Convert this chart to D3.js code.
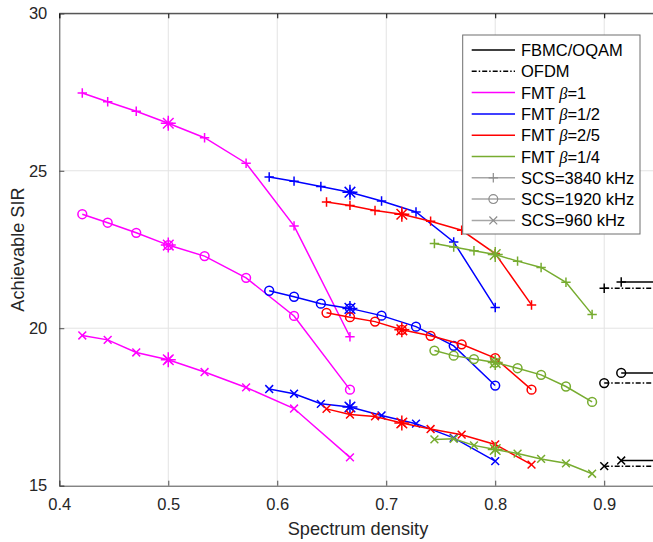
<!DOCTYPE html>
<html>
<head>
<meta charset="utf-8">
<script src="https://cdn.jsdelivr.net/npm/d3@7"></script>
<style>
  body { margin: 0; background: #fff; }
  svg { display: block; font-family: "Liberation Sans", Arial, sans-serif; }
</style>
</head>
<body>
<svg id="chart"></svg>
<script>
// Spectrum density values for each FMT roll-off
const xBeta1 = [0.4211, 0.4444, 0.4706, 0.5, 0.5333, 0.5714, 0.6154, 0.6667];
const xBetaHalf = [0.5926, 0.6154, 0.64, 0.6667, 0.6957, 0.7273, 0.7619, 0.8];
const xBeta25 = [0.6452, 0.6667, 0.6897, 0.7143, 0.7407, 0.7692, 0.8, 0.8333];
const xBeta14 = [0.7442, 0.7619, 0.7805, 0.8, 0.8205, 0.8421, 0.8649, 0.8889];

// Achievable SIR, one array per roll-off and subcarrier spacing
const sirBeta1_3840 = [27.47, 27.19, 26.89, 26.51, 26.05, 25.24, 23.25, 19.73];
const sirBeta1_1920 = [23.62, 23.35, 23.03, 22.64, 22.29, 21.60, 20.39, 18.05];
const sirBeta1_960 = [19.77, 19.63, 19.23, 19.00, 18.61, 18.12, 17.45, 15.90];

const sirBetaHalf_3840 = [24.80, 24.67, 24.50, 24.32, 24.04, 23.69, 22.74, 20.66];
const sirBetaHalf_1920 = [21.19, 21.00, 20.78, 20.63, 20.40, 20.05, 19.44, 18.18];
const sirBetaHalf_960 = [18.07, 17.92, 17.60, 17.50, 17.23, 16.97, 16.52, 15.78];

const sirBeta25_3840 = [24.01, 23.90, 23.74, 23.62, 23.40, 23.11, 22.37, 20.74];
const sirBeta25_1920 = [20.49, 20.35, 20.21, 19.95, 19.76, 19.49, 19.05, 18.05];
const sirBeta25_960 = [17.44, 17.26, 17.20, 16.99, 16.80, 16.62, 16.31, 15.67];

const sirBeta14_3840 = [22.69, 22.58, 22.46, 22.34, 22.13, 21.93, 21.46, 20.44];
const sirBeta14_1920 = [19.29, 19.13, 19.02, 18.91, 18.73, 18.52, 18.15, 17.66];
const sirBeta14_960 = [16.47, 16.49, 16.28, 16.15, 16.02, 15.85, 15.71, 15.38];

// FBMC/OQAM and OFDM reference levels
const xFbmc = [0.9156, 1.0];
const xOfdm = [0.9, 1.0];
const sirFbmc = [21.47, 18.58, 15.80];
const sirOfdm = [21.27, 18.26, 15.62];

const xTicks = [0.4, 0.5, 0.6, 0.7, 0.8, 0.9];
const yTicks = [15, 20, 25, 30];
const legendLabels = ["FBMC/OQAM", "OFDM", "FMT β=1", "FMT β=1/2", "FMT β=2/5", "FMT β=1/4",
    "SCS=3840 kHz", "SCS=1920 kHz", "SCS=960 kHz"];

const W = 653, H = 542;
const margin = { top: 13.3, left: 59.3 };
const plotW = 599.4, plotH = 472.4;

const svg = d3.select("#chart").attr("width", W).attr("height", H);

const xScale = d3.scaleLinear().domain([0.4, 0.95]).range([0, plotW]);
const yScale = d3.scaleLinear().domain([15, 30]).range([plotH, 0]);

const g = svg.append("g")
    .attr("transform", "translate(" + margin.left + "," + margin.top + ")");

svg.append("defs").append("clipPath").attr("id", "clip")
    .append("rect").attr("width", plotW).attr("height", plotH);

// grid
g.append("g").selectAll("line")
    .data(xTicks.slice(1))
    .enter().append("line")
    .attr("x1", d => xScale(d)).attr("x2", d => xScale(d))
    .attr("y1", 0).attr("y2", plotH)
    .attr("stroke", "#e3e3e3").attr("stroke-width", 1);
g.append("g").selectAll("line")
    .data(yTicks.slice(1, -1))
    .enter().append("line")
    .attr("x1", 0).attr("x2", plotW)
    .attr("y1", d => yScale(d)).attr("y2", d => yScale(d))
    .attr("stroke", "#e3e3e3").attr("stroke-width", 1);

// axes (ticks pointing in)
const xAxis = g.append("g")
    .attr("transform", "translate(0," + plotH + ")")
    .call(d3.axisBottom(xScale).tickValues(xTicks).tickSize(-5).tickPadding(13)
        .tickFormat(d3.format(".1f")));
const yAxis = g.append("g")
    .call(d3.axisLeft(yScale).tickValues(yTicks).tickSize(-5).tickPadding(12));
g.append("g")
    .call(d3.axisTop(xScale).tickValues(xTicks).tickSize(-5).tickFormat(""));
[xAxis, yAxis].forEach(a => {
    a.select(".domain").attr("stroke", "#4d4d4d");
    a.selectAll(".tick line").attr("stroke", "#4d4d4d");
    a.selectAll("text").attr("fill", "#262626").style("font-size", "16.5px")
        .style("font-family", "'Liberation Sans', Arial, sans-serif");
});
g.selectAll(".domain").attr("stroke", "#4d4d4d");
g.append("line").attr("x1", 0).attr("x2", plotW).attr("y1", 0).attr("y2", 0)
    .attr("stroke", "#4d4d4d");

// marker shapes
function markerPath(type, s) {
    if (type === "plus") return `M${-s},0H${s}M0,${-s}V${s}`;
    if (type === "times") return `M${-s},${-s}L${s},${s}M${-s},${s}L${s},${-s}`;
    if (type === "circle") return `M${s},0A${s},${s} 0 1,1 ${-s},0A${s},${s} 0 1,1 ${s},0`;
    const d = s * 0.7071;
    return `M${-s},0H${s}M0,${-s}V${s}M${-d},${-d}L${d},${d}M${-d},${d}L${d},${-d}`;
}
const markerSize = { plus: 4.7, circle: 4.4, times: 3.9 };

const line = d3.line().x(d => xScale(d[0])).y(d => yScale(d[1]));
const plot = g.append("g").attr("clip-path", "url(#clip)");

function drawSeries(xs, ys, color, marker, dash, starIdx) {
    const pts = xs.map((x, i) => [x, ys[i]]);
    plot.append("path")
        .datum(pts)
        .attr("d", line)
        .attr("fill", "none")
        .attr("stroke", color)
        .attr("stroke-width", 1.5)
        .attr("stroke-dasharray", dash || null);
    plot.append("g").selectAll("path")
        .data(pts.slice(0, xs.length === 2 ? 1 : pts.length))
        .enter().append("path")
        .attr("transform", d => "translate(" + xScale(d[0]) + "," + yScale(d[1]) + ")")
        .attr("d", markerPath(marker, markerSize[marker]))
        .attr("fill", "none")
        .attr("stroke", color)
        .attr("stroke-width", 1.5);
    if (starIdx != null) {
        plot.append("path")
            .attr("transform", "translate(" + xScale(xs[starIdx]) + "," + yScale(ys[starIdx]) + ")")
            .attr("d", markerPath("star", 7.5))
            .attr("fill", "none")
            .attr("stroke", color)
            .attr("stroke-width", 1.5);
    }
}

const fmt = [
    { x: xBeta1, color: "#ff00ff", ys: [sirBeta1_3840, sirBeta1_1920, sirBeta1_960] },
    { x: xBetaHalf, color: "#0000ff", ys: [sirBetaHalf_3840, sirBetaHalf_1920, sirBetaHalf_960] },
    { x: xBeta25, color: "#ff0000", ys: [sirBeta25_3840, sirBeta25_1920, sirBeta25_960] },
    { x: xBeta14, color: "#77ac30", ys: [sirBeta14_3840, sirBeta14_1920, sirBeta14_960] }
];
const markers = ["plus", "circle", "times"];

fmt.forEach(s => {
    s.ys.forEach((ys, k) => drawSeries(s.x, ys, s.color, markers[k], null, 3));
});

markers.forEach((m, k) => {
    drawSeries(xOfdm, [sirOfdm[k], sirOfdm[k]], "#000", m, "5,2,1.5,2", null);
    drawSeries(xFbmc, [sirFbmc[k], sirFbmc[k]], "#000", m, null, null);
});

// axis labels
svg.append("text")
    .attr("x", margin.left + plotW / 2 - 1)
    .attr("y", 535)
    .attr("text-anchor", "middle")
    .attr("fill", "#262626")
    .style("font-size", "18.2px")
    .text("Spectrum density");
svg.append("text")
    .attr("transform", "translate(24," + (margin.top + plotH / 2) + ") rotate(-90)")
    .attr("text-anchor", "middle")
    .attr("fill", "#262626")
    .style("font-size", "18.2px")
    .text("Achievable SIR");

// legend
const leg = svg.append("g");
leg.append("rect")
    .attr("x", 462.7).attr("y", 35).attr("width", 177.3).attr("height", 199)
    .attr("fill", "#fff").attr("stroke", "#6e6e6e").attr("stroke-width", 1);

const legColors = ["#000", "#000", "#ff00ff", "#0000ff", "#ff0000", "#77ac30", "#a6a6a6", "#a6a6a6", "#a6a6a6"];
const legDash = [null, "5,2,1.5,2", null, null, null, null, null, null, null];
const legMarker = [null, null, null, null, null, null, "plus", "circle", "times"];

legendLabels.forEach((lab, i) => {
    const y = 50 + i * 21.3;
    leg.append("line")
        .attr("x1", 471.7).attr("x2", 515).attr("y1", y).attr("y2", y)
        .attr("stroke", legColors[i]).attr("stroke-width", 1.5)
        .attr("stroke-dasharray", legDash[i]);
    if (legMarker[i]) {
        leg.append("path")
            .attr("transform", "translate(493.3," + y + ")")
            .attr("d", markerPath(legMarker[i], markerSize[legMarker[i]]))
            .attr("fill", "none").attr("stroke", "#8c8c8c").attr("stroke-width", 1.2);
    }
    const t = leg.append("text")
        .attr("x", 521).attr("y", y + 6)
        .attr("fill", "#000")
        .style("font-size", "16.5px");
    if (lab.indexOf("β") >= 0) {
        const parts = lab.split("β");
        t.append("tspan").text(parts[0]);
        t.append("tspan").text("β")
            .style("font-style", "italic")
            .style("font-family", "'Liberation Serif', serif");
        t.append("tspan").text(parts[1]);
    } else {
        t.text(lab);
    }
});
</script>
</body>
</html>
